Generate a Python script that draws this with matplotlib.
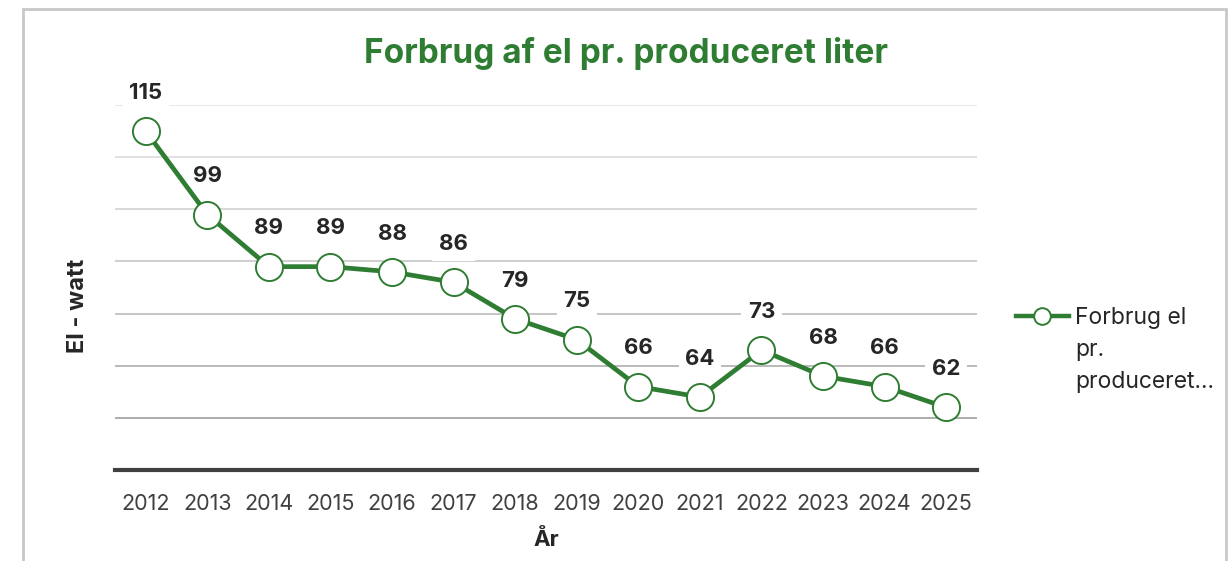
import matplotlib.pyplot as plt
from matplotlib.lines import Line2D
from matplotlib.patches import Rectangle

# Data
years = ['2012', '2013', '2014', '2015', '2016', '2017', '2018',
         '2019', '2020', '2021', '2022', '2023', '2024', '2025']
forbrug = [115, 99, 89, 89, 88, 86, 79, 75, 66, 64, 73, 68, 66, 62]
grid_vals = [60, 70, 80, 90, 100, 110, 120]

green = '#2e7d32'
dark = '#262626'
plt.rcParams['font.family'] = ['Inter', 'DejaVu Sans']

fig = plt.figure(figsize=(12.32, 5.61), dpi=100)
ax = fig.add_axes([0.0933, 0.1622, 0.6997, 0.6506])

# chart frame
fig.add_artist(Rectangle((23 / 1232, -0.05), (1226 - 23) / 1232, 1 - 9 / 561 + 0.05,
                         transform=fig.transFigure, fill=False,
                         edgecolor='#c8c8c8', linewidth=2))

x = list(range(len(years)))
grid_colors = ['#a6a6a6', '#b4b4b4', '#c2c2c2', '#cccccc', '#d6d6d6', '#dedede', '#e6e6e6']
for g, c in zip(grid_vals, grid_colors):
    ax.axhline(g, color=c, linewidth=1.3, zorder=1)

ax.plot(x, forbrug, color=green, linewidth=3.4, marker='o', markersize=19.5,
        markerfacecolor='white', markeredgecolor=green, markeredgewidth=1.4, zorder=3)

for xi, v in zip(x, forbrug):
    ax.annotate(str(v), (xi, v), xytext=(0, 27.5), textcoords='offset points',
                ha='center', va='center', fontsize=16, fontweight='bold', color=dark,
                bbox=dict(boxstyle='square,pad=0.3', facecolor='white', edgecolor='none'),
                zorder=2)

ax.set_xlim(-0.5, len(years) - 0.5)
ax.set_ylim(50, 120)
ax.set_xticks(x)
ax.set_xticklabels(years, fontsize=15.5, color='#404040')
ax.set_yticks([])
ax.tick_params(axis='x', length=0, pad=17)
for s in ['top', 'right', 'left']:
    ax.spines[s].set_visible(False)
ax.spines['bottom'].set_color('#404040')
ax.spines['bottom'].set_linewidth(3)
ax.patch.set_alpha(0)

ax.set_xlabel('År', fontsize=16, fontweight='bold', color=dark, labelpad=11)
fig.text(78 / 1232, 1 - 306 / 561, 'El - watt', rotation=90, ha='center', va='center',
         fontsize=17, fontweight='bold', color=dark)

fig.text(626 / 1232, 1 - 54 / 561, 'Forbrug af el pr. produceret liter', ha='center',
         va='center', fontsize=24, fontweight='bold', color=green)

# legend
fig.add_artist(Line2D([1016 / 1232, 1069 / 1232], [1 - 316 / 561, 1 - 316 / 561],
                      transform=fig.transFigure, color=green, linewidth=3.2, zorder=3))
fig.add_artist(Line2D([1042 / 1232], [1 - 316 / 561], transform=fig.transFigure,
                      marker='o', markersize=12, markerfacecolor='white',
                      markeredgecolor=green, markeredgewidth=1.4, linestyle='none', zorder=4))
for i, t in enumerate(['Forbrug el', 'pr.', 'produceret...']):
    fig.text(1075 / 1232, 1 - (318 + 32 * i) / 561, t, ha='left', va='center',
             fontsize=16.5, color=dark)

fig.savefig('out.png', dpi=100)
